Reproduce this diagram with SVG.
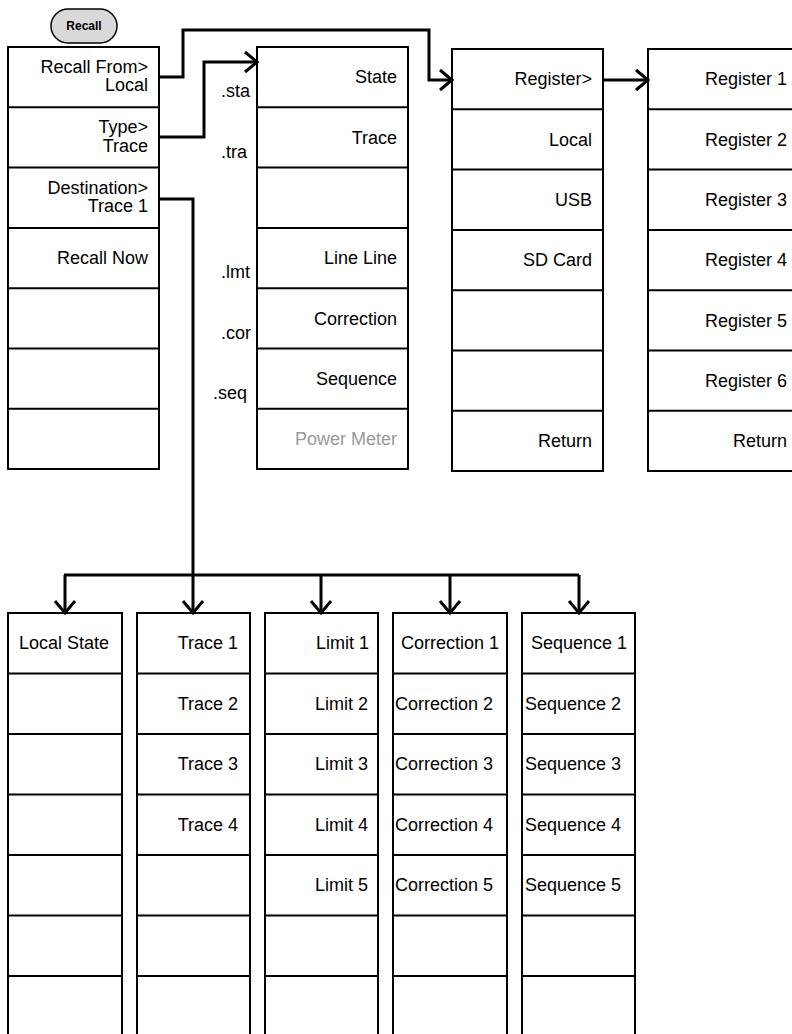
<svg xmlns="http://www.w3.org/2000/svg" width="792" height="1034" viewBox="0 0 792 1034">
<defs>
<style>
.box{fill:#fff;stroke:#000;stroke-width:2}
.div{stroke:#000;stroke-width:2}
.t{font-family:"Liberation Sans",Arial,sans-serif;font-size:18px;fill:#000}
.r{text-anchor:end}
.m{text-anchor:middle}
.g{fill:#9a9a9a}
.c{fill:none;stroke:#000;stroke-width:3;stroke-linejoin:miter}
.btn{fill:#d9d9d9;stroke:#000;stroke-width:1.5}
.bt{font-family:"Liberation Sans",Arial,sans-serif;font-size:12px;font-weight:bold;text-anchor:middle;fill:#000}
</style>
<marker id="ah" markerWidth="16" markerHeight="24" refX="13" refY="12" orient="auto" markerUnits="userSpaceOnUse">
<path d="M1,2 L13,12 L1,22" fill="none" stroke="#000" stroke-width="3"/>
</marker>
</defs>
<rect width="792" height="1034" fill="#fff"/>

<g id="recall-button">
<rect class="btn" x="51" y="9" width="66" height="34" rx="17" ry="17"/>
<text class="bt" x="84" y="30">Recall</text>
</g>

<g id="menu-recall">
<rect class="box" x="8" y="47" width="151" height="422"/>
<path class="div" d="M8,107.3H159M8,167.6H159M8,227.9H159M8,288.2H159M8,348.5H159M8,408.8H159"/>
<text class="t r" x="148" y="73">Recall From&gt;</text>
<text class="t r" x="148" y="91">Local</text>
<text class="t r" x="148" y="133">Type&gt;</text>
<text class="t r" x="148" y="151.5">Trace</text>
<text class="t r" x="148" y="194">Destination&gt;</text>
<text class="t r" x="148" y="212">Trace 1</text>
<text class="t r" x="148" y="264">Recall Now</text>
</g>

<g id="menu-type">
<rect class="box" x="257" y="47" width="151" height="422"/>
<path class="div" d="M257,107.3H408M257,167.6H408M257,227.9H408M257,288.2H408M257,348.5H408M257,408.8H408"/>
<text class="t r" x="397" y="83">State</text>
<text class="t r" x="397" y="143.5">Trace</text>
<text class="t r" x="397" y="264">Line Line</text>
<text class="t r" x="397" y="324.5">Correction</text>
<text class="t r" x="397" y="384.5">Sequence</text>
<text class="t r g" x="397" y="445">Power Meter</text>
</g>

<g id="ext-labels">
<text class="t" x="221" y="97">.sta</text>
<text class="t" x="221" y="157.5">.tra</text>
<text class="t" x="221" y="278">.lmt</text>
<text class="t" x="221" y="338.5">.cor</text>
<text class="t" x="213" y="398.5">.seq</text>
</g>

<g id="menu-from">
<rect class="box" x="452" y="49" width="151" height="422"/>
<path class="div" d="M452,109.3H603M452,169.6H603M452,229.9H603M452,290.2H603M452,350.5H603M452,410.8H603"/>
<text class="t r" x="592" y="85">Register&gt;</text>
<text class="t r" x="592" y="145.5">Local</text>
<text class="t r" x="592" y="205.5">USB</text>
<text class="t r" x="592" y="266">SD Card</text>
<text class="t r" x="592" y="447">Return</text>
</g>

<g id="menu-register">
<rect class="box" x="648" y="49" width="151" height="422"/>
<path class="div" d="M648,109.3H799M648,169.6H799M648,229.9H799M648,290.2H799M648,350.5H799M648,410.8H799"/>
<text class="t r" x="787" y="85">Register 1</text>
<text class="t r" x="787" y="145.5">Register 2</text>
<text class="t r" x="787" y="205.5">Register 3</text>
<text class="t r" x="787" y="266">Register 4</text>
<text class="t r" x="787" y="326.5">Register 5</text>
<text class="t r" x="787" y="386.5">Register 6</text>
<text class="t r" x="787" y="447">Return</text>
</g>

<g id="menu-local-state">
<rect class="box" x="8" y="613" width="114" height="430"/>
<path class="div" d="M8,673.5H122M8,734H122M8,794.5H122M8,855H122M8,915.5H122M8,976H122"/>
<text class="t m" x="64" y="649">Local State</text>
</g>

<g id="menu-trace">
<rect class="box" x="137" y="613" width="113" height="430"/>
<path class="div" d="M137,673.5H250M137,734H250M137,794.5H250M137,855H250M137,915.5H250M137,976H250"/>
<text class="t r" x="238" y="649">Trace 1</text>
<text class="t r" x="238" y="709.5">Trace 2</text>
<text class="t r" x="238" y="770">Trace 3</text>
<text class="t r" x="238" y="830.5">Trace 4</text>
</g>

<g id="menu-limit">
<rect class="box" x="265" y="613" width="113" height="430"/>
<path class="div" d="M265,673.5H378M265,734H378M265,794.5H378M265,855H378M265,915.5H378M265,976H378"/>
<text class="t r" x="369" y="649">Limit 1</text>
<text class="t r" x="368" y="709.5">Limit 2</text>
<text class="t r" x="368" y="770">Limit 3</text>
<text class="t r" x="368" y="830.5">Limit 4</text>
<text class="t r" x="368" y="891">Limit 5</text>
</g>

<g id="menu-correction">
<rect class="box" x="393" y="613" width="114" height="430"/>
<path class="div" d="M393,673.5H507M393,734H507M393,794.5H507M393,855H507M393,915.5H507M393,976H507"/>
<text class="t r" x="499" y="649">Correction 1</text>
<text class="t" x="395" y="709.5">Correction 2</text>
<text class="t" x="395" y="770">Correction 3</text>
<text class="t" x="395" y="830.5">Correction 4</text>
<text class="t" x="395" y="891">Correction 5</text>
</g>

<g id="menu-sequence">
<rect class="box" x="522" y="613" width="113" height="430"/>
<path class="div" d="M522,673.5H635M522,734H635M522,794.5H635M522,855H635M522,915.5H635M522,976H635"/>
<text class="t r" x="627" y="649">Sequence 1</text>
<text class="t" x="525" y="709.5">Sequence 2</text>
<text class="t" x="525" y="770">Sequence 3</text>
<text class="t" x="525" y="830.5">Sequence 4</text>
<text class="t" x="525" y="891">Sequence 5</text>
</g>

<g id="connectors">
<path class="c" d="M159,77H183V30H429V80H452" marker-end="url(#ah)"/>
<path class="c" d="M159,137H204V62H257" marker-end="url(#ah)"/>
<path class="c" d="M603,80H648" marker-end="url(#ah)"/>
<path class="c" d="M159,199H193V575"/>
<path class="c" d="M64,575H579"/>
<path class="c" d="M65,575V613" marker-end="url(#ah)"/>
<path class="c" d="M193,575V613" marker-end="url(#ah)"/>
<path class="c" d="M321,575V613" marker-end="url(#ah)"/>
<path class="c" d="M450,575V613" marker-end="url(#ah)"/>
<path class="c" d="M579,575V613" marker-end="url(#ah)"/>
</g>
</svg>
